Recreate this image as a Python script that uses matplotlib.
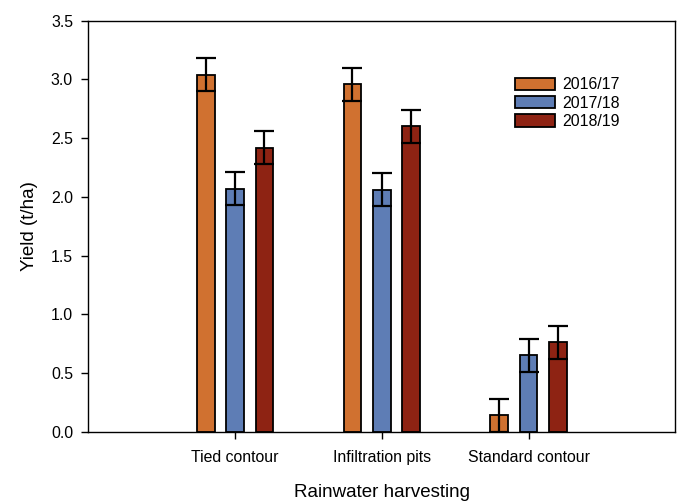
import matplotlib
matplotlib.use("Agg")
import matplotlib.pyplot as plt
import numpy as np

plt.rcParams['font.family'] = ['Liberation Sans', 'DejaVu Sans']

categories = ["Tied contour", "Infiltration pits", "Standard contour"]
seasons = ["2016/17", "2017/18", "2018/19"]
yield_2016 = [3.04, 2.96, 0.14]
yield_2017 = [2.07, 2.06, 0.65]
yield_2018 = [2.42, 2.60, 0.76]
err_2016 = [0.14, 0.14, 0.14]
err_2017 = [0.14, 0.14, 0.14]
err_2018 = [0.14, 0.14, 0.14]
yticks = [0.0, 0.5, 1.0, 1.5, 2.0, 2.5, 3.0, 3.5]

colors = ["#D07130", "#5E7DB5", "#8E2313"]

fig = plt.figure(figsize=(6.83, 5.03), dpi=100)
ax = fig.add_axes([0.1293, 0.1417, 0.8594, 0.8171])

x = np.arange(1, len(categories) + 1)
offset = 0.2
width = 0.12
series = [(yield_2016, err_2016), (yield_2017, err_2017), (yield_2018, err_2018)]
for i, ((vals, errs), lab, c) in enumerate(zip(series, seasons, colors)):
    ax.bar(x + (i - 1) * offset, vals, width, color=c, edgecolor='black',
           linewidth=1.3, label=lab, zorder=2)
    ax.errorbar(x + (i - 1) * offset, vals, yerr=errs, fmt='none',
                ecolor='black', elinewidth=1.6, capsize=7, capthick=1.6, zorder=3)

ax.set_xlim(0, 4)
ax.set_ylim(0, 3.5)
ax.set_yticks(yticks)
ax.set_yticklabels([f"{v:.1f}" for v in yticks])
ax.set_xticks(x)
ax.set_xticklabels(categories)
ax.tick_params(axis='both', direction='out', length=5, width=1, labelsize=11.4, pad=6)
ax.tick_params(axis='x', pad=8)
for s in ax.spines.values():
    s.set_linewidth(1.0)

ax.set_xlabel("Rainwater harvesting", fontsize=13.5, labelpad=14)
ax.set_ylabel("Yield (t/ha)", fontsize=13.5, labelpad=9)

ax.legend(loc='upper left', bbox_to_anchor=(0.727, 0.862), frameon=False,
          fontsize=11.4, handlelength=2.5, handleheight=0.85, labelspacing=0.2,
          handletextpad=0.5, borderaxespad=0, borderpad=0)

fig.savefig("out.png", dpi=100)
